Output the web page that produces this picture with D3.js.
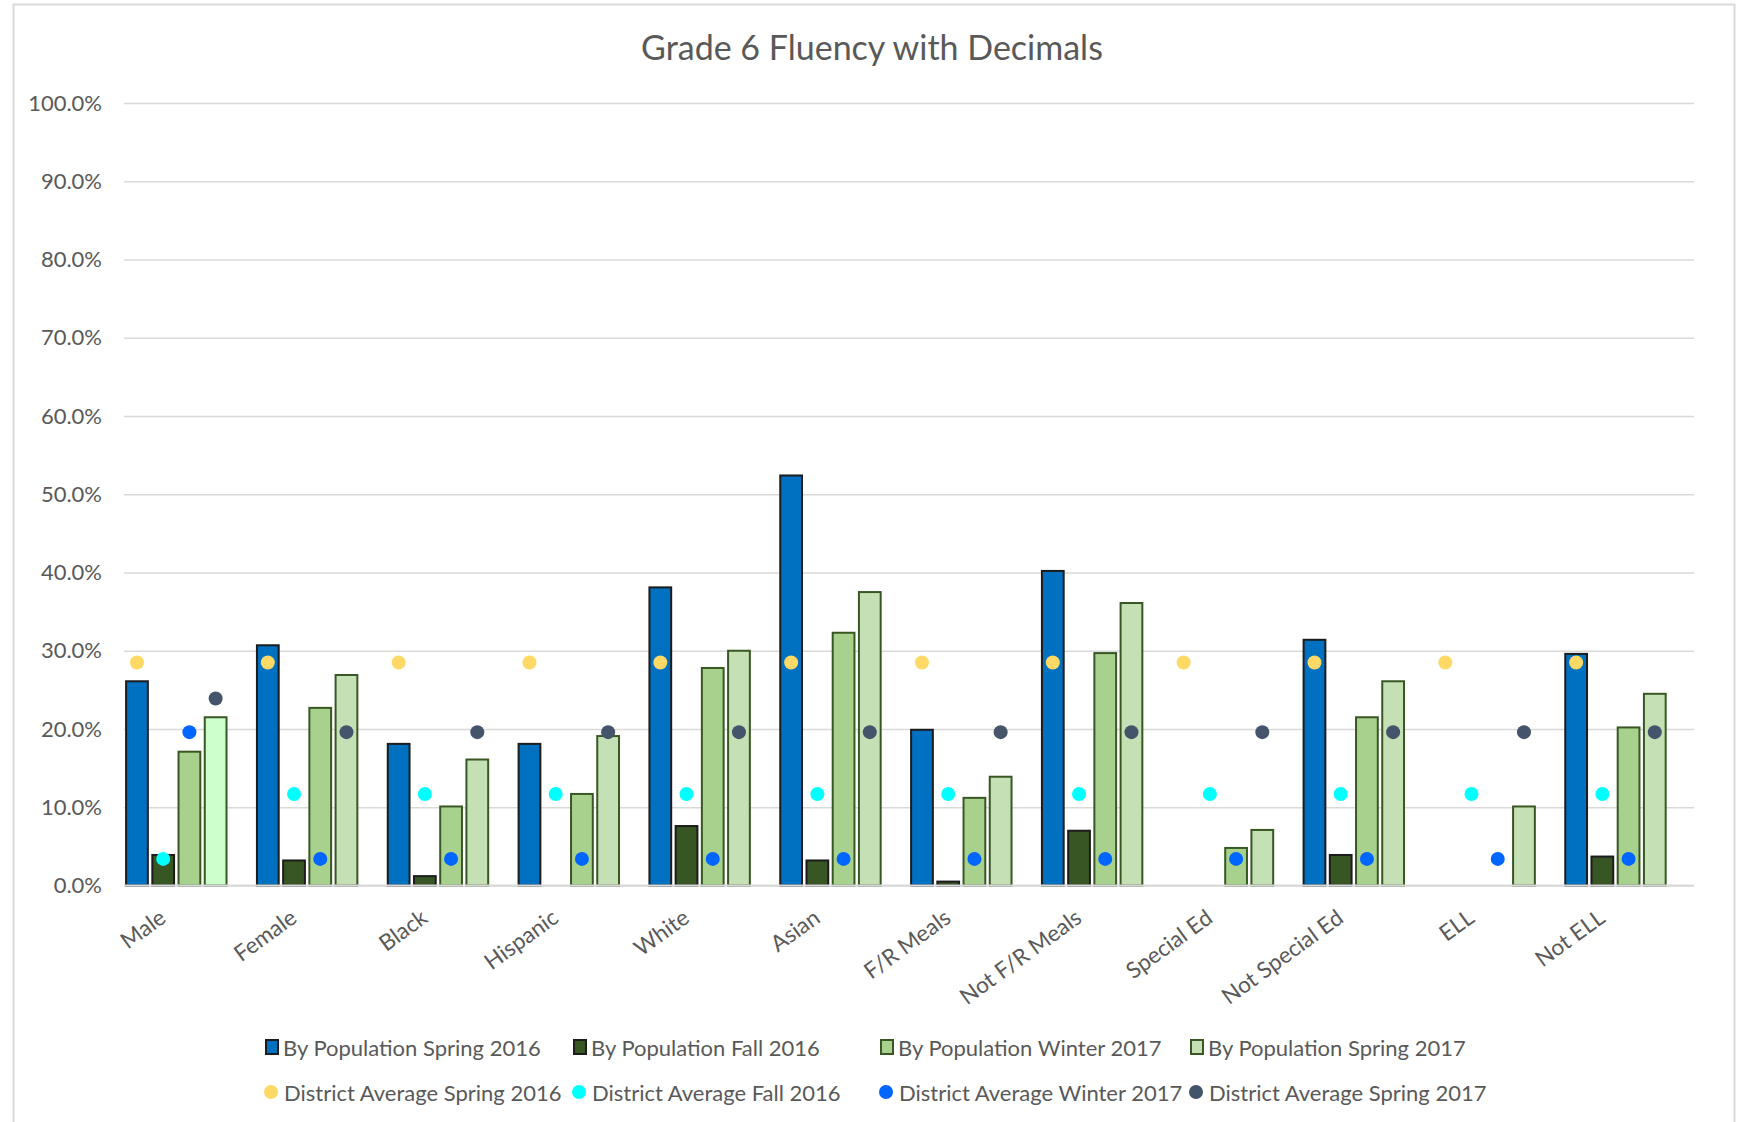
<!DOCTYPE html>
<html>
<head>
<meta charset="utf-8">
<script src="https://cdn.jsdelivr.net/npm/d3@7"></script>
<style>
  html, body { margin: 0; padding: 0; background: #fff; }
  svg text { font-family: Lato, "Open Sans", sans-serif; fill: #595959; }
</style>
</head>
<body>
<svg id="chart"></svg>
<script>
// Categories along the x axis
const categories = ["Male", "Female", "Black", "Hispanic", "White", "Asian",
    "F/R Meals", "Not F/R Meals", "Special Ed", "Not Special Ed", "ELL", "Not ELL"];

// Bar series (percent), null = no bar
const popSpring2016 = [26.1, 30.7, 18.1, 18.1, 38.1, 52.4, 19.9, 40.2, null, 31.4, null, 29.6];
const popFall2016 = [3.9, 3.2, 1.2, null, 7.6, 3.2, 0.5, 7.0, null, 3.9, null, 3.7];
const popWinter2017 = [17.1, 22.7, 10.1, 11.7, 27.8, 32.3, 11.2, 29.7, 4.8, 21.5, null, 20.2];
const popSpring2017 = [21.5, 26.9, 16.1, 19.1, 30.0, 37.5, 13.9, 36.1, 7.1, 26.1, 10.1, 24.5];

// District average marker series (percent)
const distSpring2016 = [28.5, 28.5, 28.5, 28.5, 28.5, 28.5, 28.5, 28.5, 28.5, 28.5, 28.5, 28.5];
const distFall2016 = [3.4, 11.7, 11.7, 11.7, 11.7, 11.7, 11.7, 11.7, 11.7, 11.7, 11.7, 11.7];
const distWinter2017 = [19.6, 3.4, 3.4, 3.4, 3.4, 3.4, 3.4, 3.4, 3.4, 3.4, 3.4, 3.4];
const distSpring2017 = [23.9, 19.6, 19.6, 19.6, 19.6, 19.6, 19.6, 19.6, 19.6, 19.6, 19.6, 19.6];

const yTicks = [0, 10, 20, 30, 40, 50, 60, 70, 80, 90, 100];

const barSeries = [
    { name: "By Population Spring 2016", values: popSpring2016, fill: "#0070c0", stroke: "#1c1c1c" },
    { name: "By Population Fall 2016", values: popFall2016, fill: "#375623", stroke: "#1c1c1c" },
    { name: "By Population Winter 2017", values: popWinter2017, fill: "#a9d18e", stroke: "#385723" },
    { name: "By Population Spring 2017", values: popSpring2017, fill: "#c5e0b4", stroke: "#385723" }
];
const dotSeries = [
    { name: "District Average Spring 2016", values: distSpring2016, fill: "#ffd966" },
    { name: "District Average Fall 2016", values: distFall2016, fill: "#00ffff" },
    { name: "District Average Winter 2017", values: distWinter2017, fill: "#0066ff" },
    { name: "District Average Spring 2017", values: distSpring2017, fill: "#44546a" }
];
// the Male bar of the last series is drawn in a lighter green
const oddFill = { series: 3, index: 0, fill: "#ccffcc" };

// Configuration
const width = 1750;
const height = 1122;
const plot = { left: 124, right: 1694, top: 103, bottom: 885.5 };
const dotRadius = 7;

const svg = d3.select('#chart')
    .attr('width', width)
    .attr('height', height);

// chart frame
svg.append('rect')
    .attr('x', 13.5)
    .attr('y', 4.5)
    .attr('width', 1721)
    .attr('height', 1130)
    .attr('fill', '#fff')
    .attr('stroke', '#d9d9d9')
    .attr('stroke-width', 2);

// Scales
const x0 = d3.scaleBand()
    .domain(categories)
    .range([plot.left, plot.right])
    .padding(0);

// five slots per category, the bars use the first four
const x1 = d3.scaleBand()
    .domain([0, 1, 2, 3, 4])
    .range([0, x0.bandwidth()])
    .paddingInner(0.17)
    .paddingOuter(0.08);

const y = d3.scaleLinear()
    .domain([0, 100])
    .range([plot.bottom, plot.top]);

// Gridlines + y labels
const yAxis = d3.axisLeft(y)
    .tickValues(yTicks)
    .tickSize(-(plot.right - plot.left))
    .tickPadding(22)
    .tickFormat(d => d3.format(".1f")(d) + "%");

const yG = svg.append('g')
    .attr('transform', `translate(${plot.left}, 0)`)
    .call(yAxis);
yG.select('.domain').remove();
yG.selectAll('.tick line')
    .attr('stroke', '#d9d9d9')
    .attr('stroke-width', 1.5);
yG.selectAll('.tick text')
    .attr('font-size', 22)
    .attr('fill', '#595959')
    .style('font-family', 'Lato, sans-serif');

// Bars
barSeries.forEach((s, si) => {
    svg.append('g')
        .selectAll('rect')
        .data(s.values.map((v, i) => ({ v, i })).filter(d => d.v !== null))
        .enter()
        .append('rect')
        .attr('x', d => x0(categories[d.i]) + x1(si))
        .attr('y', d => y(d.v))
        .attr('width', x1.bandwidth())
        .attr('height', d => y(0) - y(d.v))
        .attr('fill', d => (si === oddFill.series && d.i === oddFill.index) ? oddFill.fill : s.fill)
        .attr('stroke', s.stroke)
        .attr('stroke-width', 2);
});

// District average dots, sitting over the matching bar slot
dotSeries.forEach((s, si) => {
    svg.append('g')
        .selectAll('circle')
        .data(s.values.map((v, i) => ({ v, i })))
        .enter()
        .append('circle')
        .attr('cx', d => x0(categories[d.i]) + x1(si) + x1.bandwidth() / 2)
        .attr('cy', d => y(d.v))
        .attr('r', dotRadius)
        .attr('fill', s.fill);
});

// x baseline
svg.append('line')
    .attr('x1', plot.left)
    .attr('x2', plot.right)
    .attr('y1', y(0))
    .attr('y2', y(0))
    .attr('stroke', '#d9d9d9')
    .attr('stroke-width', 2);

// Category labels, rotated
svg.append('g')
    .selectAll('text')
    .data(categories)
    .enter()
    .append('text')
    .attr('transform', d => `translate(${x0(d) + x0.bandwidth() / 2 - 22}, 921) rotate(-36)`)
    .attr('text-anchor', 'end')
    .attr('font-size', 22.5)
    .text(d => d);

// Title
svg.append('text')
    .attr('x', 872)
    .attr('y', 60)
    .attr('text-anchor', 'middle')
    .attr('font-size', 34)
    .text('Grade 6 Fluency with Decimals');

// Legend
const legendCols = [265, 573, 880, 1190];
const legendRows = [1047, 1092];

barSeries.forEach((s, i) => {
    const g = svg.append('g')
        .attr('transform', `translate(${legendCols[i]}, ${legendRows[0]})`);
    g.append('rect')
        .attr('x', 1)
        .attr('y', -7)
        .attr('width', 12)
        .attr('height', 14)
        .attr('fill', s.fill)
        .attr('stroke', s.stroke)
        .attr('stroke-width', 2);
    g.append('text')
        .attr('x', 18)
        .attr('y', 0)
        .attr('dominant-baseline', 'central')
        .attr('font-size', 22)
        .text(s.name);
});

dotSeries.forEach((s, i) => {
    const g = svg.append('g')
        .attr('transform', `translate(${legendCols[i]}, ${legendRows[1]})`);
    g.append('circle')
        .attr('cx', 6)
        .attr('cy', 0)
        .attr('r', 7)
        .attr('fill', s.fill);
    g.append('text')
        .attr('x', 19)
        .attr('y', 0)
        .attr('dominant-baseline', 'central')
        .attr('font-size', 22)
        .text(s.name);
});
</script>
</body>
</html>
